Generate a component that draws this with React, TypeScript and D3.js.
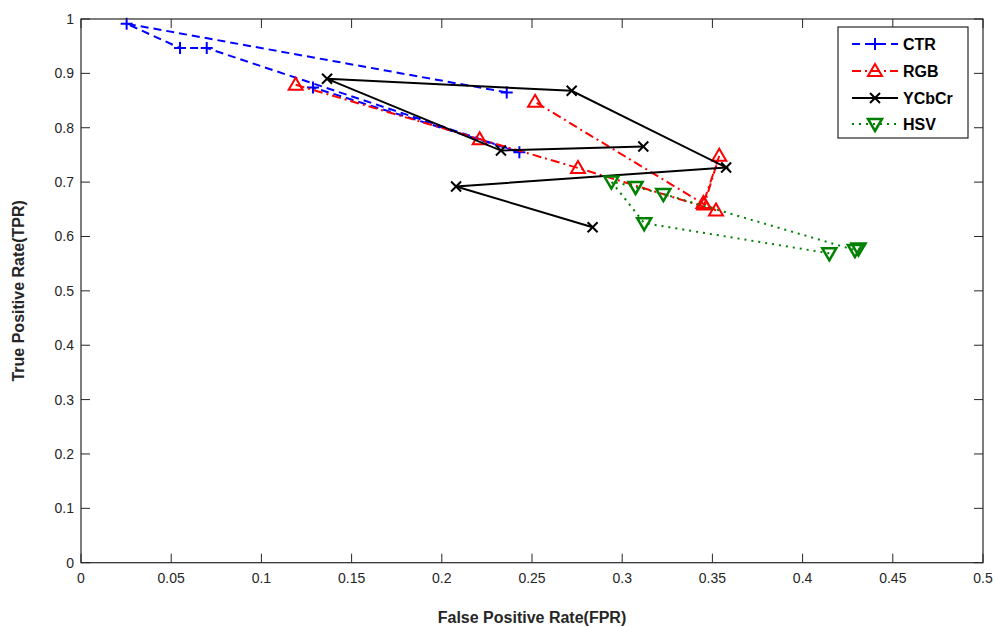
import React from "react";
import * as d3 from "d3";

const xTicks = [0, 0.05, 0.1, 0.15, 0.2, 0.25, 0.3, 0.35, 0.4, 0.45, 0.5];
const yTicks = [0, 0.1, 0.2, 0.3, 0.4, 0.5, 0.6, 0.7, 0.8, 0.9, 1];

const ctrFPR = [0.236, 0.0253, 0.0549, 0.0697, 0.243, 0.1286];
const ctrTPR = [0.865, 0.9913, 0.9466, 0.9466, 0.755, 0.874];

const rgbFPR = [0.119, 0.221, 0.2755, 0.352, 0.345, 0.3538, 0.3455, 0.2517];
const rgbTPR = [0.879, 0.779, 0.726, 0.648, 0.6614, 0.7484, 0.659, 0.8476];

const ycbFPR = [0.3117, 0.2328, 0.1364, 0.272, 0.3576, 0.2079, 0.2836];
const ycbTPR = [0.7656, 0.758, 0.89, 0.868, 0.727, 0.692, 0.617];

const hsvFPR = [0.4148, 0.3122, 0.294, 0.3074, 0.3228, 0.429, 0.431];
const hsvTPR = [0.569, 0.6245, 0.701, 0.691, 0.678, 0.575, 0.578];

const seriesNames = ["CTR", "RGB", "YCbCr", "HSV"];

const W = 995, H = 627;
const L = 81, R = 983, T = 19, B = 562.7;

const x = d3.scaleLinear().domain([0, 0.5]).range([L, R]);
const y = d3.scaleLinear().domain([0, 1]).range([B, T]);

type Style = { color: string; dash: string; marker: string };
const styles: Style[] = [
  { color: "#0000ff", dash: "8,5", marker: "plus" },
  { color: "#ff0000", dash: "9,4,2,4", marker: "tri" },
  { color: "#000000", dash: "", marker: "x" },
  { color: "#008000", dash: "2,5", marker: "tridown" },
];

function Marker({ kind, cx, cy, color }: { kind: string; cx: number; cy: number; color: string }) {
  const s = 6;
  if (kind === "plus")
    return <path d={`M${cx - s},${cy}H${cx + s}M${cx},${cy - s}V${cy + s}`} stroke={color} strokeWidth={2} fill="none" />;
  if (kind === "x")
    return <path d={`M${cx - 5},${cy - 5}L${cx + 5},${cy + 5}M${cx - 5},${cy + 5}L${cx + 5},${cy - 5}`} stroke={color} strokeWidth={2} fill="none" />;
  if (kind === "tri")
    return <path d={`M${cx},${cy - 7}L${cx + 7},${cy + 5}L${cx - 7},${cy + 5}Z`} stroke={color} strokeWidth={2} fill="none" />;
  return <path d={`M${cx},${cy + 7}L${cx + 7},${cy - 5}L${cx - 7},${cy - 5}Z`} stroke={color} strokeWidth={2.5} fill="none" />;
}

export default function App() {
  const data = [
    ctrFPR.map((v, i) => [v, ctrTPR[i]]),
    rgbFPR.map((v, i) => [v, rgbTPR[i]]),
    ycbFPR.map((v, i) => [v, ycbTPR[i]]),
    hsvFPR.map((v, i) => [v, hsvTPR[i]]),
  ];
  const line = d3.line<number[]>().x((d) => x(d[0])).y((d) => y(d[1]));
  const font = "Liberation Sans, Arial, sans-serif";
  const legY = [44, 71, 98, 124];
  return (
    <svg width={W} height={H} style={{ position: "absolute", left: 0, top: 0, background: "#fff" }} fontFamily={font}>
      <rect x={0} y={0} width={W} height={H} fill="#fff" />
      {/* data */}
      {data.map((pts, si) => (
        <g key={si}>
          <path d={line(pts) || ""} fill="none" stroke={styles[si].color} strokeWidth={2} strokeDasharray={styles[si].dash} />
          {pts.map((p, i) => (
            <Marker key={i} kind={styles[si].marker} cx={x(p[0])} cy={y(p[1])} color={styles[si].color} />
          ))}
        </g>
      ))}
      {/* box */}
      <rect x={L} y={T} width={R - L} height={B - T} fill="none" stroke="#262626" strokeWidth={1.2} />
      {xTicks.map((t) => (
        <g key={"x" + t}>
          <line x1={x(t)} x2={x(t)} y1={B} y2={B - 9} stroke="#262626" />
          <line x1={x(t)} x2={x(t)} y1={T} y2={T + 9} stroke="#262626" />
          <text x={x(t)} y={583} textAnchor="middle" fontSize={14} fill="#262626">{String(t)}</text>
        </g>
      ))}
      {yTicks.map((t) => (
        <g key={"y" + t}>
          <line x1={L} x2={L + 9} y1={y(t)} y2={y(t)} stroke="#262626" />
          <line x1={R} x2={R - 9} y1={y(t)} y2={y(t)} stroke="#262626" />
          <text x={74} y={y(t) + 5} textAnchor="end" fontSize={14} fill="#262626">{String(t)}</text>
        </g>
      ))}
      <text x={532} y={623} textAnchor="middle" fontSize={16} fontWeight="bold" fill="#262626">False Positive Rate(FPR)</text>
      <text transform={`translate(24,${(T + B) / 2}) rotate(-90)`} textAnchor="middle" fontSize={16} fontWeight="bold" fill="#262626">True Positive Rate(TPR)</text>
      {/* legend */}
      <rect x={838} y={27} width={130} height={111} fill="#fff" stroke="#262626" strokeWidth={1.2} />
      {seriesNames.map((n, i) => (
        <g key={n}>
          <line x1={852} x2={898} y1={legY[i]} y2={legY[i]} stroke={styles[i].color} strokeWidth={2} strokeDasharray={styles[i].dash} />
          <Marker kind={styles[i].marker} cx={875} cy={legY[i]} color={styles[i].color} />
          <text x={903} y={legY[i] + 6} fontSize={16} fontWeight="bold" fill="#000">{n}</text>
        </g>
      ))}
    </svg>
  );
}
